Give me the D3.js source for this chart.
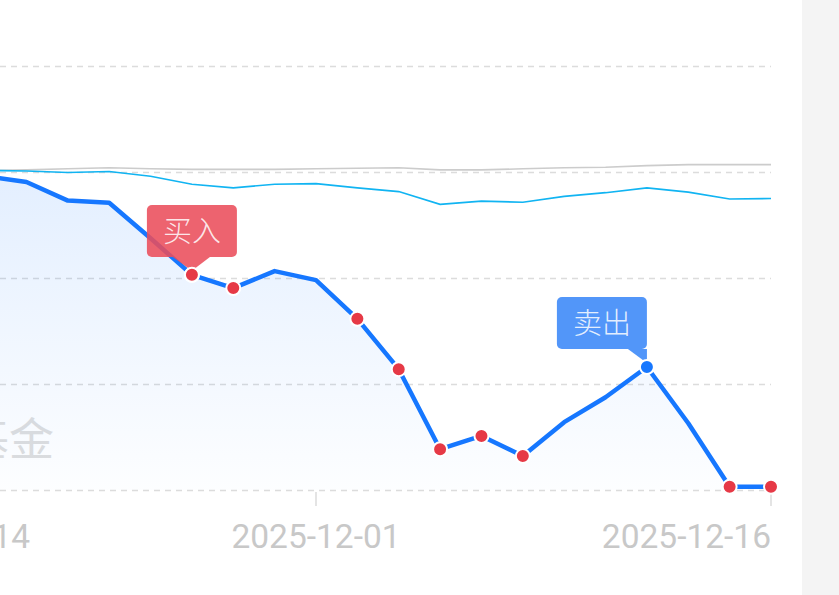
<!DOCTYPE html>
<meta charset="utf-8">
<style>
body { margin: 0; background: #fff; }
svg { display: block; }
</style>
<body>
<svg width="839" height="595"></svg>

<script src="https://d3js.org/d3.v7.min.js"></script>
<script>

// trading days shown in this window
var dates = ["2025-11-14","2025-11-17","2025-11-18","2025-11-19","2025-11-20","2025-11-21",
  "2025-11-24","2025-11-25","2025-11-26","2025-11-27","2025-11-28",
  "2025-12-01","2025-12-02","2025-12-03","2025-12-04","2025-12-05",
  "2025-12-08","2025-12-09","2025-12-10","2025-12-11","2025-12-12",
  "2025-12-15","2025-12-16"];

// cumulative return, %
var fundValues  = [0.00, 0.02, -0.02, -0.08, -0.19, -0.54, -0.58, -1.25, -1.94, -2.19, -1.87,
  -2.04, -2.77, -3.72, -5.23, -4.98, -5.36, -4.72, -4.25, -3.68, -4.74, -5.94, -5.94];
var indexValues = [0.00, 0.02, 0.03, 0.03, 0.02, -0.01, 0.01, -0.08, -0.23, -0.30, -0.23,
  -0.22, -0.30, -0.37, -0.61, -0.55, -0.57, -0.46, -0.39, -0.30, -0.38, -0.51, -0.50];
var benchValues = [0.00, 0.01, 0.02, 0.03, 0.04, 0.06, 0.08, 0.06, 0.05, 0.05, 0.05,
  0.06, 0.07, 0.08, 0.04, 0.04, 0.06, 0.08, 0.09, 0.12, 0.14, 0.14, 0.14];

var yTicks = [2, 0, -2, -4, -6];
var xTickLabels = ["2025-11-14", "2025-12-01", "2025-12-16"];

var buyDots = ["2025-11-26","2025-11-27","2025-12-02","2025-12-03","2025-12-04",
  "2025-12-05","2025-12-08","2025-12-15","2025-12-16"];
var buyLabelDate = "2025-11-26";
var sellDate = "2025-12-11";

var svg = d3.select("svg"),
    width = 839,
    height = 595;

// trading-day index scale
var x = d3.scalePoint()
    .domain(dates)
    .range([-139, 771]);

var y = d3.scaleLinear()
    .domain([-6, 2])
    .range([490, 66]);

// side panel
svg.append("rect")
    .attr("x", 802).attr("y", 0)
    .attr("width", width - 802).attr("height", height)
    .attr("fill", "#f4f4f4");

var defs = svg.append("defs");
var grad = defs.append("linearGradient")
    .attr("id", "areaGrad")
    .attr("x1", 0).attr("y1", 0).attr("x2", 0).attr("y2", 1);
grad.append("stop").attr("offset", "0%").attr("stop-color", "#1677ff").attr("stop-opacity", 0.12);
grad.append("stop").attr("offset", "100%").attr("stop-color", "#1677ff").attr("stop-opacity", 0.01);

// grid
svg.append("g")
  .selectAll("line")
  .data(yTicks)
  .enter().append("line")
    .attr("x1", 0)
    .attr("x2", 771)
    .attr("y1", function(d) { return y(d) + 0.5; })
    .attr("y2", function(d) { return y(d) + 0.5; })
    .attr("stroke", "#dcdcdc")
    .attr("stroke-width", 1.3)
    .attr("stroke-dasharray", "6,5");

// x axis ticks + labels
var xAxis = svg.append("g");
xAxis.selectAll("line")
  .data(xTickLabels)
  .enter().append("line")
    .attr("x1", function(d) { return x(d); })
    .attr("x2", function(d) { return x(d); })
    .attr("y1", 492)
    .attr("y2", 506)
    .attr("stroke", "#d6d6d6")
    .attr("stroke-width", 1.3);

xAxis.selectAll("text")
  .data(xTickLabels)
  .enter().append("text")
    .attr("x", function(d) { return x(d); })
    .attr("y", 548)
    .attr("text-anchor", function(d, i) { return i == 0 ? "start" : (i == xTickLabels.length - 1 ? "end" : "middle"); })
    .attr("font-family", "Roboto, sans-serif")
    .attr("font-size", 33.5)
    .attr("fill", "#c8c8c8")
    .text(function(d) { return d; });

// watermark
svg.append("text")
    .attr("x", 54)
    .attr("y", 456)
    .attr("text-anchor", "end")
    .attr("font-family", "'Noto Sans CJK SC', sans-serif")
    .attr("font-size", 45)
    .attr("fill", "#dedede")
    .text("基金");

var fund = dates.map(function(d, i) { return {date: d, v: fundValues[i]}; });
var idx = dates.map(function(d, i) { return {date: d, v: indexValues[i]}; });
var bench = dates.map(function(d, i) { return {date: d, v: benchValues[i]}; });

var line = d3.line()
    .x(function(d) { return x(d.date); })
    .y(function(d) { return y(d.v); });

var area = d3.area()
    .x(function(d) { return x(d.date); })
    .y0(y(-6))
    .y1(function(d) { return y(d.v); });

svg.append("path")
    .datum(fund)
    .attr("d", area)
    .attr("fill", "url(#areaGrad)");

svg.append("path")
    .datum(bench)
    .attr("d", line)
    .attr("fill", "none")
    .attr("stroke", "#cccccc")
    .attr("stroke-width", 1.6);

svg.append("path")
    .datum(idx)
    .attr("d", line)
    .attr("fill", "none")
    .attr("stroke", "#11b4f2")
    .attr("stroke-width", 1.6);

svg.append("path")
    .datum(fund)
    .attr("d", line)
    .attr("fill", "none")
    .attr("stroke", "#1677ff")
    .attr("stroke-width", 4.5)
    .attr("stroke-linejoin", "round");

// buy / sell markers
svg.append("g")
  .selectAll("circle")
  .data(fund.filter(function(d) { return buyDots.indexOf(d.date) >= 0; }))
  .enter().append("circle")
    .attr("cx", function(d) { return x(d.date); })
    .attr("cy", function(d) { return y(d.v); })
    .attr("r", 7)
    .attr("fill", "#e63946")
    .attr("stroke", "#fff")
    .attr("stroke-width", 2);

var sell = fund.filter(function(d) { return d.date == sellDate; })[0];
var buy = fund.filter(function(d) { return d.date == buyLabelDate; })[0];

function tag(px, py, boxX, boxY, color, label, tri) {
  var g = svg.append("g");
  g.append("path")
      .attr("d", "M" + tri[0] + "," + (boxY + 52) + "L" + tri[1] + "," + (boxY + 52) + "L" + px + "," + (py - 4) + "Z")
      .attr("fill", color)
      .attr("fill-opacity", 0.88);
  g.append("rect")
      .attr("x", boxX).attr("y", boxY)
      .attr("width", 90).attr("height", 52)
      .attr("rx", 5)
      .attr("fill", color)
      .attr("fill-opacity", 0.88);
  g.append("text")
      .attr("x", boxX + 45)
      .attr("y", boxY + 37)
      .attr("text-anchor", "middle")
      .attr("font-family", "'Noto Sans CJK SC', sans-serif")
      .attr("font-weight", 300)
      .attr("font-size", 29)
      .attr("fill", "#fff")
      .attr("fill-opacity", 0.85)
      .text(label);
}

var bx = x(buy.date), by = y(buy.v);
tag(bx, by, bx - 45, 205, "#eb4d5b", "买入", [bx - 19, bx + 18]);

var sx = x(sell.date), sy = y(sell.v);
tag(sx, sy, sx - 90, 297, "#3a88f8", "卖出", [sx - 19, sx]);

svg.append("circle")
    .attr("cx", sx)
    .attr("cy", sy)
    .attr("r", 7)
    .attr("fill", "#1677ff")
    .attr("stroke", "#fff")
    .attr("stroke-width", 2);

// buy dot redrawn above the tag
svg.append("circle")
    .attr("cx", bx)
    .attr("cy", by)
    .attr("r", 7)
    .attr("fill", "#e63946")
    .attr("stroke", "#fff")
    .attr("stroke-width", 2);

</script>
</body>
